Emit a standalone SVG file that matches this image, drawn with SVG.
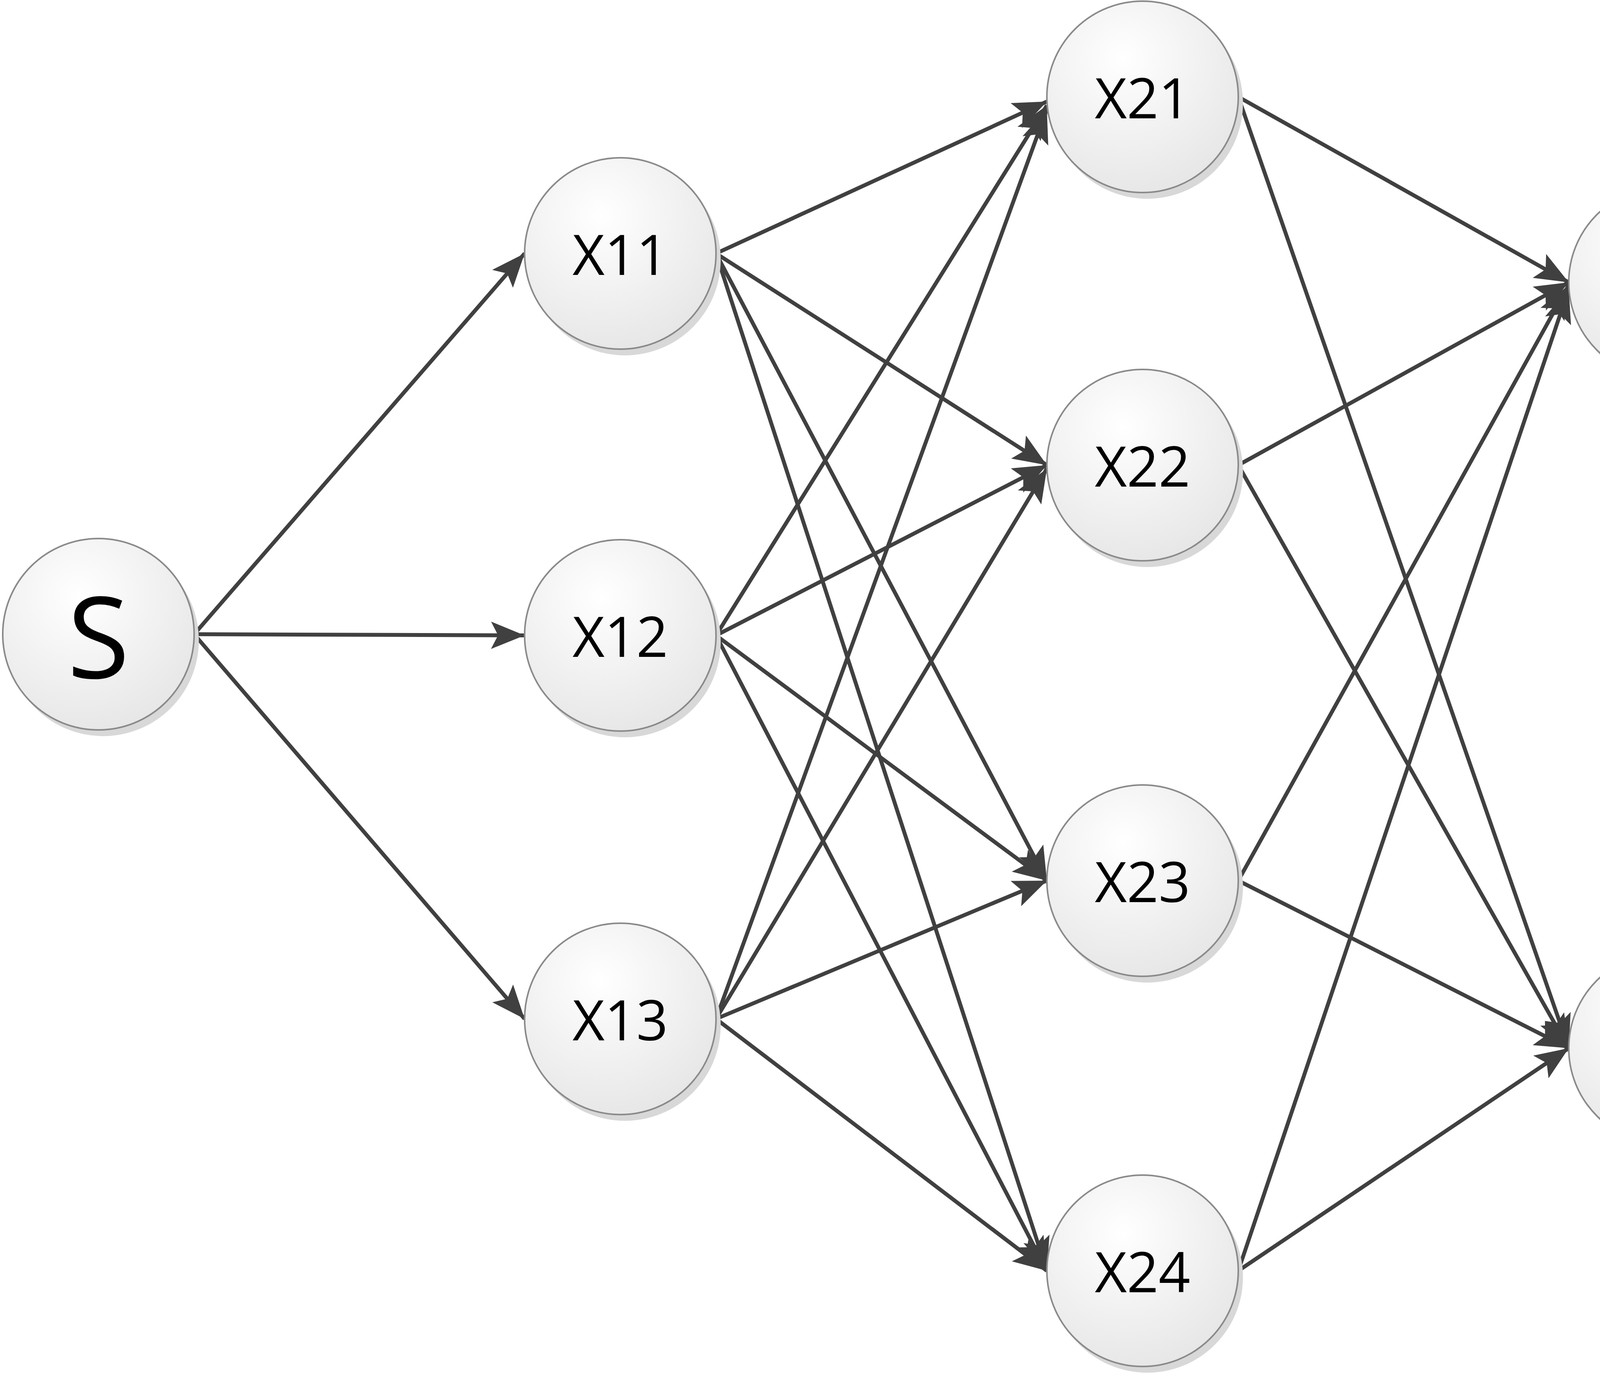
<svg xmlns="http://www.w3.org/2000/svg" width="5559" height="3526" viewBox="0 0 5559 3526">
<defs>
<radialGradient id="g" cx="0.4" cy="0.3" r="0.8"><stop offset="0" stop-color="#ffffff"/><stop offset="1" stop-color="#e4e4e4"/></radialGradient>
<marker id="a" markerUnits="userSpaceOnUse" markerWidth="90" markerHeight="70" refX="86" refY="35" orient="auto"><path d="M0,0 L86,35 L0,70 L18,35 Z" fill="#404040"/></marker>
</defs>
<style>
.n circle.b{fill:url(#g);stroke:#8a8a8a;stroke-width:4}
.n circle.s{fill:#d8d8d8;stroke:none}
.n text{font-family:"Open Sans","Liberation Sans",sans-serif;font-size:142px;text-anchor:middle;dominant-baseline:central;fill:#000}
.n text.big{font-size:290px}
#edges line{stroke:#404040;stroke-width:10;marker-end:url(#a)}
</style>
<g id="edges">
<line x1="497" y1="1624" x2="1343" y2="649"/>
<line x1="497" y1="1624" x2="1343" y2="1627"/>
<line x1="497" y1="1624" x2="1343" y2="2609"/>
<line x1="1833" y1="649" x2="2680" y2="260"/>
<line x1="1833" y1="649" x2="2680" y2="1191"/>
<line x1="1833" y1="649" x2="2680" y2="2255"/>
<line x1="1833" y1="649" x2="2680" y2="3254"/>
<line x1="1833" y1="1627" x2="2680" y2="270"/>
<line x1="1833" y1="1627" x2="2680" y2="1191"/>
<line x1="1833" y1="1627" x2="2680" y2="2255"/>
<line x1="1833" y1="1627" x2="2680" y2="3254"/>
<line x1="1833" y1="2609" x2="2680" y2="280"/>
<line x1="1833" y1="2609" x2="2680" y2="1200"/>
<line x1="1833" y1="2609" x2="2680" y2="2255"/>
<line x1="1833" y1="2609" x2="2680" y2="3254"/>
<line x1="3170" y1="248" x2="4016" y2="723"/>
<line x1="3170" y1="248" x2="4016" y2="2684"/>
<line x1="3170" y1="1191" x2="4016" y2="723"/>
<line x1="3170" y1="1191" x2="4016" y2="2684"/>
<line x1="3170" y1="2255" x2="4016" y2="730"/>
<line x1="3170" y1="2255" x2="4016" y2="2684"/>
<line x1="3170" y1="3254" x2="4016" y2="740"/>
<line x1="3170" y1="3254" x2="4016" y2="2684"/>
<line x1="4506" y1="723" x2="5041" y2="1640"/>
<line x1="4506" y1="2684" x2="5041" y2="1670"/>
</g>
<g id="S" class="n"><circle class="s" cx="264" cy="1640" r="245"/><circle class="b" cx="252" cy="1624" r="245"/><text class="big" x="252" y="1624">S</text></g>
<g id="X11" class="n"><circle class="s" cx="1600" cy="665" r="245"/><circle class="b" cx="1588" cy="649" r="245"/><text x="1588" y="649">X11</text></g>
<g id="X12" class="n"><circle class="s" cx="1600" cy="1643" r="245"/><circle class="b" cx="1588" cy="1627" r="245"/><text x="1588" y="1627">X12</text></g>
<g id="X13" class="n"><circle class="s" cx="1600" cy="2625" r="245"/><circle class="b" cx="1588" cy="2609" r="245"/><text x="1588" y="2609">X13</text></g>
<g id="X21" class="n"><circle class="s" cx="2937" cy="264" r="245"/><circle class="b" cx="2925" cy="248" r="245"/><text x="2925" y="248">X21</text></g>
<g id="X22" class="n"><circle class="s" cx="2937" cy="1207" r="245"/><circle class="b" cx="2925" cy="1191" r="245"/><text x="2925" y="1191">X22</text></g>
<g id="X23" class="n"><circle class="s" cx="2937" cy="2271" r="245"/><circle class="b" cx="2925" cy="2255" r="245"/><text x="2925" y="2255">X23</text></g>
<g id="X24" class="n"><circle class="s" cx="2937" cy="3270" r="245"/><circle class="b" cx="2925" cy="3254" r="245"/><text x="2925" y="3254">X24</text></g>
<g id="X31" class="n"><circle class="s" cx="4273" cy="739" r="245"/><circle class="b" cx="4261" cy="723" r="245"/><text x="4261" y="723">X31</text></g>
<g id="X32" class="n"><circle class="s" cx="4273" cy="2700" r="245"/><circle class="b" cx="4261" cy="2684" r="245"/><text x="4261" y="2684">X32</text></g>
<g id="E" class="n"><circle class="s" cx="5298" cy="1672" r="245"/><circle class="b" cx="5286" cy="1656" r="245"/><text class="big" x="5286" y="1656">E</text></g>
</svg>
